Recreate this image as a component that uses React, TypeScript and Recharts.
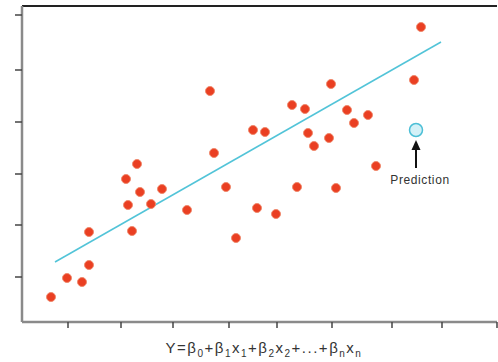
import { ReferenceLine, Scatter, ScatterChart, XAxis, YAxis } from 'recharts'

// observed samples (x, y) in plot units
const sampleX = [399, 188, 309, 392, 270, 283, 325, 346, 332, 231, 243, 286, 307, 292, 192, 115, 104, 354, 118, 140, 275, 314, 204, 106, 129, 165, 235, 254, 67, 110, 214, 67, 45, 60, 29]
const sampleY = [295, 231, 238, 242, 217, 213, 212, 207, 199, 192, 190, 189, 184, 176, 169, 158, 143, 156, 130, 133, 135, 134, 135, 117, 118, 112, 114, 108, 90, 91, 84, 57, 44, 40, 25]

// fitted regression line end points
const fitX = [33, 419]
const fitY = [60, 280]

const predictionX = [394]
const predictionY = [192]

const xTicks = [46, 99, 151, 207, 255, 310, 370, 420, 475]
const yTicks = [45, 97, 148, 200, 252, 307]

const samples = sampleX.map((x, i) => ({ x, y: sampleY[i] }))
const prediction = predictionX.map((x, i) => ({ x, y: predictionY[i] }))

const Dot = (props: any) => {
  const { cx, cy } = props
  return <circle cx={cx} cy={cy} r={4.5} fill="#ea3f22" stroke="#f08a6e" strokeWidth={1} />
}

const PredictionMark = (props: any) => {
  const { cx, cy } = props
  return (
    <g>
      <circle cx={cx} cy={cy} r={6.5} fill="#d4f1f7" stroke="#4cbfd6" strokeWidth={1.5} />
      <polygon points={`${cx},${cy + 10} ${cx - 4.5},${cy + 20} ${cx + 4.5},${cy + 20}`} fill="#111" />
      <line x1={cx} y1={cy + 18} x2={cx} y2={cy + 38} stroke="#111" strokeWidth={2} />
      <text
        x={cx + 4}
        y={cy + 54}
        textAnchor="middle"
        fontSize={12}
        letterSpacing={0.6}
        fill="#333"
        fontFamily="Liberation Sans, Arial, sans-serif"
      >
        Prediction
      </text>
    </g>
  )
}

const noLabel = () => ''
const sub = { fontSize: 10 }

export default function App() {
  return (
    <div style={{ position: 'relative', width: 498, height: 362, background: '#fff' }}>
      <style>{`body { margin: 0; }`}</style>
      <ScatterChart width={498} height={362} margin={{ top: 6, right: 1, bottom: 39, left: 21 }}>
        <XAxis
          type="number"
          dataKey="x"
          domain={[0, 475]}
          ticks={xTicks}
          tickFormatter={noLabel}
          height={1}
          tickSize={6}
          axisLine={{ stroke: '#8a8a8a', strokeWidth: 2.5 }}
          tickLine={{ stroke: '#444', strokeWidth: 1.5 }}
        />
        <YAxis
          type="number"
          dataKey="y"
          domain={[0, 316]}
          ticks={yTicks}
          tickFormatter={noLabel}
          width={1}
          tickSize={7}
          axisLine={{ stroke: '#8a8a8a', strokeWidth: 2.5 }}
          tickLine={{ stroke: '#444', strokeWidth: 1.5 }}
        />
        <ReferenceLine y={316} stroke="#222" strokeWidth={2} ifOverflow="visible" />
        <ReferenceLine
          segment={[
            { x: fitX[0], y: fitY[0] },
            { x: fitX[1], y: fitY[1] },
          ]}
          stroke="#52c4d8"
          strokeWidth={1.5}
        />
        <Scatter data={samples} shape={Dot} isAnimationActive={false} />
        <Scatter data={prediction} shape={PredictionMark} isAnimationActive={false} />
      </ScatterChart>
      <div
        style={{
          position: 'absolute',
          left: 112,
          top: 339,
          width: 304,
          textAlign: 'center',
          fontFamily: 'Liberation Sans, Arial, sans-serif',
          fontSize: 15,
          letterSpacing: 1.5,
          color: '#333',
          whiteSpace: 'nowrap',
        }}
      >
        Y=β<sub style={sub}>0</sub>+β<sub style={sub}>1</sub>x<sub style={sub}>1</sub>+β<sub style={sub}>2</sub>x
        <sub style={sub}>2</sub>+...+β<sub style={sub}>n</sub>x<sub style={sub}>n</sub>
      </div>
    </div>
  )
}
